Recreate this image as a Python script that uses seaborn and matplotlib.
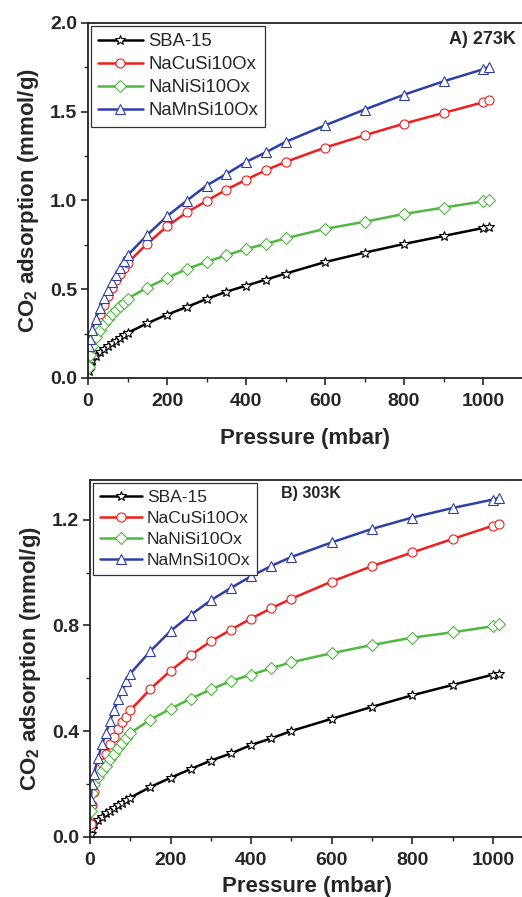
import numpy as np
import pandas as pd
import matplotlib
matplotlib.use("Agg")
import matplotlib.pyplot as plt
from matplotlib.ticker import MultipleLocator, FormatStrFormatter
import seaborn as sns

# ---------------- data ----------------
pressure = [2, 5, 10, 20, 30, 40, 50, 60, 70, 80, 90, 100, 150, 200, 250, 300,
            350, 400, 450, 500, 600, 700, 800, 900, 1000, 1015]

series_names = ["SBA-15", "NaCuSi10Ox", "NaNiSi10Ox", "NaMnSi10Ox"]

# Panel A) 273K
a_sba = [0.04, 0.07, 0.10, 0.125, 0.145, 0.165, 0.18, 0.195, 0.21, 0.225, 0.24, 0.254,
         0.308, 0.357, 0.40, 0.445, 0.486, 0.52, 0.554, 0.588, 0.653, 0.706, 0.755,
         0.80, 0.845, 0.85]
a_cu = [0.15, 0.20, 0.24, 0.30, 0.36, 0.41, 0.46, 0.505, 0.55, 0.585, 0.62, 0.648,
        0.757, 0.854, 0.933, 0.997, 1.061, 1.117, 1.17, 1.217, 1.298, 1.367, 1.433,
        1.493, 1.553, 1.564]
a_ni = [0.06, 0.13, 0.18, 0.23, 0.27, 0.305, 0.335, 0.36, 0.385, 0.405, 0.425, 0.447,
        0.509, 0.563, 0.614, 0.654, 0.691, 0.727, 0.755, 0.787, 0.84, 0.88, 0.924,
        0.96, 0.995, 1.001]
a_mn = [0.18, 0.22, 0.27, 0.335, 0.395, 0.45, 0.495, 0.54, 0.58, 0.62, 0.66, 0.691,
        0.806, 0.911, 0.999, 1.084, 1.149, 1.217, 1.271, 1.33, 1.423, 1.512, 1.596,
        1.671, 1.739, 1.754]

# Panel B) 303K
b_sba = [0.01, 0.03, 0.05, 0.065, 0.075, 0.09, 0.10, 0.11, 0.12, 0.13, 0.14, 0.149,
         0.189, 0.224, 0.257, 0.289, 0.316, 0.348, 0.373, 0.401, 0.447, 0.492, 0.536,
         0.575, 0.614, 0.618]
b_cu = [0.05, 0.12, 0.17, 0.23, 0.28, 0.315, 0.35, 0.38, 0.41, 0.435, 0.455, 0.479,
        0.56, 0.629, 0.688, 0.74, 0.784, 0.826, 0.865, 0.901, 0.966, 1.024, 1.076,
        1.127, 1.177, 1.182]
b_ni = [0.10, 0.165, 0.20, 0.225, 0.25, 0.27, 0.295, 0.315, 0.335, 0.355, 0.375, 0.393,
        0.444, 0.485, 0.523, 0.558, 0.59, 0.614, 0.638, 0.661, 0.695, 0.726, 0.754,
        0.774, 0.797, 0.804]
b_mn = [0.14, 0.20, 0.24, 0.30, 0.35, 0.395, 0.44, 0.48, 0.52, 0.555, 0.59, 0.618,
        0.703, 0.779, 0.84, 0.895, 0.942, 0.986, 1.025, 1.059, 1.114, 1.165, 1.208,
        1.244, 1.276, 1.282]

colors = ["#000000", "#f01e1e", "#50b840", "#2e3fa8"]
markers = ["*", "o", "D", "^"]
msizes = [7.5, 6.5, 6.0, 7.5]

sns.set_style("ticks")
plt.rcParams["font.family"] = ["Liberation Sans", "DejaVu Sans"]
plt.rcParams["mathtext.fontset"] = "custom"
plt.rcParams["mathtext.rm"] = "Liberation Sans"
plt.rcParams["mathtext.bf"] = "Liberation Sans:bold"

fig = plt.figure(figsize=(5.22, 8.97), dpi=100)
axA = fig.add_axes([0.1686, 0.5786, 0.8324, 0.3958])
axB = fig.add_axes([0.1724, 0.0669, 0.8297, 0.3980])


def draw(ax, data_list, xmax, ymax, ymaj, ymin_, title, title_xy,
         leg_fs, xlabelpad):
    for name, vals, c, m, ms in zip(series_names, data_list, colors, markers, msizes):
        df = pd.DataFrame({"p": pressure, "v": vals})
        sns.lineplot(data=df, x="p", y="v", ax=ax, color=c, lw=1.8,
                     marker=m, markersize=ms, markerfacecolor="white",
                     markeredgecolor=c, markeredgewidth=0.8, label=name)
    ax.set_xlim(0, xmax)
    ax.set_ylim(0, ymax)
    ax.xaxis.set_major_locator(MultipleLocator(200))
    ax.xaxis.set_minor_locator(MultipleLocator(100))
    ax.yaxis.set_major_locator(MultipleLocator(ymaj))
    ax.yaxis.set_minor_locator(MultipleLocator(ymin_))
    ax.yaxis.set_major_formatter(FormatStrFormatter("%.1f"))
    ax.tick_params(which="major", direction="out", length=5, width=1.2,
                   labelsize=14, pad=3)
    ax.tick_params(axis="x", which="major", pad=6)
    ax.tick_params(which="minor", direction="out", length=3, width=1.0)
    for lab in ax.get_xticklabels() + ax.get_yticklabels():
        lab.set_fontweight("bold")
    for s in ["left", "bottom", "top"]:
        ax.spines[s].set_linewidth(1.3)
        ax.spines[s].set_color("#222222")
    ax.spines["right"].set_visible(False)
    ax.set_xlabel("Pressure (mbar)", fontsize=16, fontweight="bold",
                  labelpad=xlabelpad)
    ax.set_ylabel(r"CO$_\mathbf{2}$ adsorption (mmol/g)", fontsize=16,
                  fontweight="bold", labelpad=6)
    leg = ax.legend(loc="upper left", fontsize=leg_fs, frameon=True, fancybox=False,
                    edgecolor="#333333", framealpha=1, borderaxespad=0.15,
                    handlelength=2.4, handletextpad=0.3, labelspacing=0.33,
                    borderpad=0.4)
    leg.get_frame().set_linewidth(0.9)
    ax.text(title_xy[0], title_xy[1], title, transform=ax.transAxes,
            fontsize=title_xy[2], fontweight="bold", ha="right", va="center")


draw(axA, [a_sba, a_cu, a_ni, a_mn], 1100, 2.0, 0.5, 0.25, "A) 273K",
     (0.985, 0.953, 13), 13.3, 13)
draw(axB, [b_sba, b_cu, b_ni, b_mn], 1075, 1.35, 0.4, 0.2, "B) 303K",
     (0.58, 0.962, 11.5), 12.6, 5)

fig.savefig("out.png", dpi=100)
